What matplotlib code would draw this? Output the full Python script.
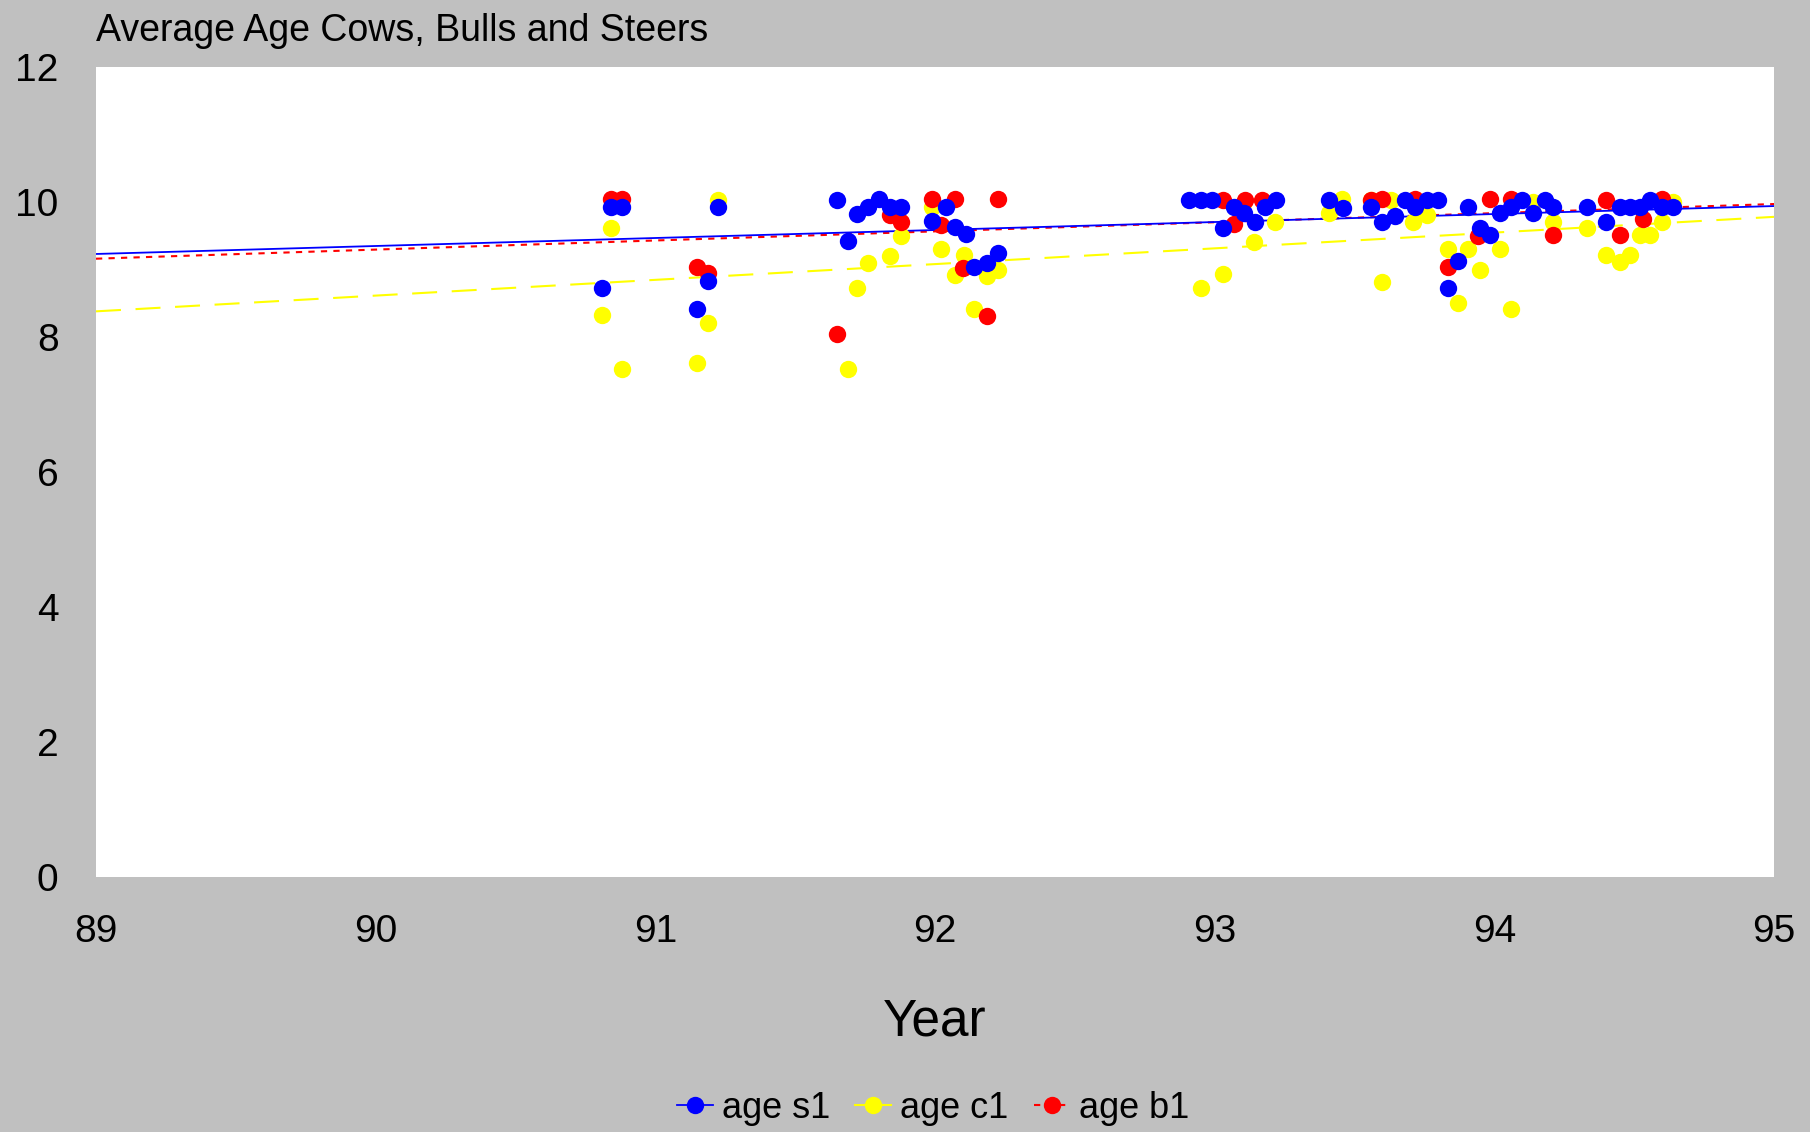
import numpy as np
import matplotlib.pyplot as plt
from matplotlib.lines import Line2D

# data (year as decimal, age in years)
year_s1 = [90.81, 90.84, 90.88, 91.15, 91.19, 91.225, 91.65, 91.69, 91.72, 91.76,
           91.80, 91.84, 91.88, 91.99, 92.04, 92.07, 92.11, 92.14, 92.185, 92.225,
           92.91, 92.95, 92.99, 93.03, 93.07, 93.105, 93.145, 93.18, 93.22, 93.41,
           93.46, 93.56, 93.60, 93.645, 93.68, 93.715, 93.76, 93.80, 93.835, 93.87,
           93.905, 93.95, 93.985, 94.02, 94.06, 94.10, 94.14, 94.18, 94.21, 94.33,
           94.40, 94.45, 94.485, 94.52, 94.555, 94.60, 94.64]
age_s1 = [8.72, 9.92, 9.92, 8.42, 8.83, 9.92, 10.03, 9.42, 9.82, 9.93,
          10.04, 9.93, 9.93, 9.72, 9.93, 9.63, 9.52, 9.04, 9.09, 9.24,
          10.03, 10.03, 10.03, 9.61, 9.93, 9.83, 9.71, 9.93, 10.03, 10.03,
          9.91, 9.93, 9.71, 9.80, 10.03, 9.93, 10.03, 10.03, 8.72, 9.13,
          9.93, 9.61, 9.51, 9.83, 9.93, 10.03, 9.83, 10.03, 9.93, 9.93,
          9.71, 9.93, 9.93, 9.93, 10.03, 9.93, 9.93]

year_c1 = [90.81, 90.84, 90.88, 91.15, 91.19, 91.225, 91.69, 91.72, 91.76, 91.84,
           91.88, 91.99, 92.02, 92.07, 92.105, 92.14, 92.185, 92.225, 92.95, 93.03,
           93.10, 93.14, 93.215, 93.41, 93.455, 93.56, 93.60, 93.63, 93.71, 93.76,
           93.835, 93.87, 93.905, 93.95, 94.02, 94.06, 94.14, 94.21, 94.33, 94.40,
           94.45, 94.485, 94.52, 94.555, 94.60, 94.64]
age_c1 = [8.32, 9.61, 7.52, 7.62, 8.21, 10.03, 7.52, 8.72, 9.10, 9.20,
          9.50, 9.93, 9.31, 8.92, 9.21, 8.42, 8.91, 9.00, 8.72, 8.93,
          9.97, 9.41, 9.71, 9.84, 10.04, 10.03, 8.82, 10.03, 9.71, 9.81,
          9.31, 8.51, 9.31, 9.00, 9.31, 8.42, 10.0, 9.71, 9.61, 9.21,
          9.11, 9.21, 9.51, 9.51, 9.71, 10.0]

year_b1 = [90.84, 90.88, 91.15, 91.19, 91.65, 91.84, 91.88, 91.99, 92.02, 92.07,
           92.10, 92.185, 92.225, 93.03, 93.07, 93.11, 93.17, 93.56, 93.60, 93.715,
           93.835, 93.94, 93.985, 94.06, 94.21, 94.40, 94.45, 94.53, 94.60]
age_b1 = [10.04, 10.04, 9.03, 8.95, 8.04, 9.81, 9.71, 10.04, 9.66, 10.04,
          9.02, 8.31, 10.04, 10.03, 9.68, 10.03, 10.03, 10.03, 10.05, 10.05,
          9.03, 9.50, 10.04, 10.04, 9.51, 10.03, 9.51, 9.75, 10.05]

# linear trend lines (ends at 89 and 95)
trend_x = [89, 95]
trend_s1 = [9.23, 9.94]
trend_c1 = [8.38, 9.78]
trend_b1 = [9.16, 9.97]

plt.rcParams['font.family'] = ['Liberation Sans', 'DejaVu Sans']

fig = plt.figure(figsize=(18.1, 11.32), dpi=100, facecolor='#c0c0c0')
ax = fig.add_axes([96/1810, 1-877/1132, 1678/1810, 810/1132])
ax.set_facecolor('white')

ms = 12.5
ax.plot(trend_x, trend_c1, color='#ffff00', lw=1.5, dashes=(12, 7), zorder=1)
ax.plot(trend_x, trend_b1, color='#ff0000', lw=1.5, dashes=(3, 3), zorder=1)
ax.plot(trend_x, trend_s1, color='#0000ff', lw=1.3, zorder=1)
ax.plot(year_c1, age_c1, 'o', color='#ffff00', ms=ms, mec='none', zorder=2)
ax.plot(year_b1, age_b1, 'o', color='#ff0000', ms=ms, mec='none', zorder=3)
ax.plot(year_s1, age_s1, 'o', color='#0000ff', ms=ms, mec='none', zorder=4)

ax.set_xlim(89, 95)
ax.set_ylim(0, 12)
ax.set_xticks(range(89, 96))
ax.set_yticks(range(0, 13, 2))
ax.tick_params(length=0, labelsize=28, pad=27)
for s in ax.spines.values():
    s.set_visible(False)

fig.text(96/1810, 1-31/1132, 'Average Age Cows, Bulls and Steers', fontsize=27,
         ha='left', va='center')
fig.text(935/1810, 1-1022/1132, 'Year', fontsize=37, ha='center', va='center')

handles = [
    Line2D([], [], color='#0000ff', lw=1.3, marker='o', ms=ms, mec='none'),
    Line2D([], [], color='#ffff00', lw=1.5, marker='o', ms=ms, mec='none'),
    Line2D([], [], color='#ff0000', lw=1.5, dashes=(3, 3), marker='o', ms=ms, mec='none'),
]
fig.legend(handles, ['age s1', 'age c1', 'age b1'], loc='center',
           bbox_to_anchor=(933/1810, 1-1108/1132), ncol=3, frameon=False,
           fontsize=26, handlelength=1.0, handletextpad=0.25, columnspacing=0.7,
           numpoints=1)

fig.savefig('out.png', dpi=100, facecolor=fig.get_facecolor())
